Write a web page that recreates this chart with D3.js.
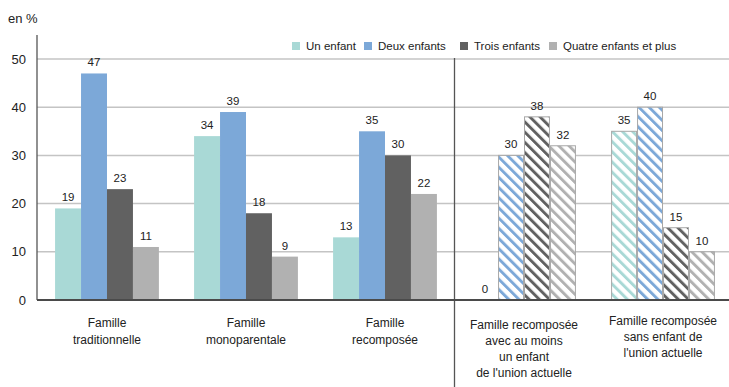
<!DOCTYPE html>
<html>
<head>
<meta charset="utf-8">
<script src="https://cdn.jsdelivr.net/npm/d3@7/dist/d3.min.js"></script>
<style>
  html, body { margin: 0; padding: 0; background: #fff; }
  svg { display: block; font-family: "Liberation Sans", Arial, sans-serif; }
</style>
</head>
<body>
<svg id="chart" width="729" height="387"></svg>
<script>
// Family types (multi-line labels) and number of children series
const categories = [
  ["Famille", "traditionnelle"],
  ["Famille", "monoparentale"],
  ["Famille", "recomposée"],
  ["Famille recomposée", "avec au moins", "un enfant", "de l'union actuelle"],
  ["Famille recomposée", "sans enfant de", "l'union actuelle"]
];
const seriesNames = ["Un enfant", "Deux enfants", "Trois enfants", "Quatre enfants et plus"];
const unEnfant      = [19, 34, 13, 0, 35];
const deuxEnfants   = [47, 39, 35, 30, 40];
const troisEnfants  = [23, 18, 30, 38, 15];
const quatreEnfants = [11, 9, 22, 32, 10];
const yTicks = [0, 10, 20, 30, 40, 50];
// the last two groups are sub-categories of "Famille recomposée" (hatched)
const hatchedGroups = [3, 4];

const seriesValues = [unEnfant, deuxEnfants, troisEnfants, quatreEnfants];
const colors = ["#a9d9d6", "#7ca8d8", "#616161", "#b1b1b1"];

const svg = d3.select("#chart");
const W = 729, H = 387;
const margin = { left: 37, right: -4, top: 35, bottom: 87 };

const x = d3.scaleBand()
  .domain(d3.range(categories.length))
  .range([margin.left, W - margin.right])
  .paddingInner(0.253)
  .paddingOuter(0.13);

const xs = d3.scaleBand()
  .domain(d3.range(seriesNames.length))
  .range([0, x.bandwidth()]);

const y = d3.scaleLinear().domain([0, 50]).range([300, 59]);

// hatch patterns for the sub-category bars
const defs = svg.append("defs");
colors.forEach((c, i) => {
  const p = defs.append("pattern")
    .attr("id", "hatch" + i)
    .attr("patternUnits", "userSpaceOnUse")
    .attr("width", 7.2).attr("height", 10)
    .attr("patternTransform", "rotate(-45)");
  p.append("rect").attr("width", 7.2).attr("height", 10).attr("fill", "#fff");
  p.append("rect").attr("x", 0).attr("width", 2.9).attr("height", 10).attr("fill", c);
});

// horizontal gridlines
svg.append("g")
  .selectAll("line")
  .data(yTicks.filter(d => d > 0))
  .join("line")
  .attr("x1", margin.left).attr("x2", W)
  .attr("y1", d => y(d)).attr("y2", d => y(d))
  .attr("stroke", "#c4c4c4").attr("stroke-width", 1.5);

// y axis
const yAxis = svg.append("g")
  .attr("transform", `translate(${margin.left},0)`)
  .call(d3.axisLeft(y).tickValues(yTicks).tickSize(0).tickPadding(11));
yAxis.select(".domain").remove();
yAxis.selectAll("text").attr("font-size", 13).attr("fill", "#222")
  .attr("font-family", "'Liberation Sans', Arial, sans-serif");
svg.append("line")
  .attr("x1", margin.left).attr("x2", margin.left)
  .attr("y1", 35).attr("y2", y(0))
  .attr("stroke", "#555").attr("stroke-width", 1.3);

svg.append("text").attr("x", 8).attr("y", 23)
  .attr("font-size", 13).attr("fill", "#222").text("en %");

// separator between family types and sub-categories
const sepX = (x(2) + x.bandwidth() + x(3)) / 2;
svg.append("line")
  .attr("x1", sepX).attr("x2", sepX)
  .attr("y1", 58).attr("y2", H)
  .attr("stroke", "#555").attr("stroke-width", 1.3);

// bars
const groups = svg.append("g").selectAll("g")
  .data(categories.map((c, gi) => gi))
  .join("g")
  .attr("transform", gi => `translate(${x(gi)},0)`);

groups.each(function (gi) {
  const g = d3.select(this);
  const hatched = hatchedGroups.includes(gi);
  seriesValues.forEach((vals, si) => {
    const v = vals[gi];
    if (v > 0) {
      g.append("rect")
        .attr("x", xs(si) + (hatched ? 0.5 : 0))
        .attr("y", y(v))
        .attr("width", xs.bandwidth() - (hatched ? 1 : 0))
        .attr("height", y(0) - y(v))
        .attr("fill", hatched ? `url(#hatch${si})` : colors[si])
        .attr("stroke", hatched ? "#a8a8a8" : "none")
        .attr("stroke-width", hatched ? 1 : 0);
    }
    g.append("text")
      .attr("x", xs(si) + xs.bandwidth() / 2)
      .attr("y", y(v) - 7)
      .attr("text-anchor", "middle")
      .attr("font-size", 11.5)
      .attr("fill", "#222")
      .text(v);
  });
});

// baseline
svg.append("line")
  .attr("x1", margin.left).attr("x2", W)
  .attr("y1", y(0)).attr("y2", y(0))
  .attr("stroke", "#4a4a4a").attr("stroke-width", 2);

// category labels
const labelTop = [327, 327, 327, 329, 325];
categories.forEach((lines, gi) => {
  const t = svg.append("text")
    .attr("text-anchor", "middle")
    .attr("font-size", 12)
    .attr("fill", "#222");
  lines.forEach((ln, li) => {
    t.append("tspan")
      .attr("x", x(gi) + x.bandwidth() / 2)
      .attr("y", labelTop[gi] + li * (gi < 3 ? 17 : 16))
      .text(ln);
  });
});

// legend
const legendX = [292, 364, 460, 549];
const legend = svg.append("g");
seriesNames.forEach((name, i) => {
  legend.append("rect")
    .attr("x", legendX[i]).attr("y", 42)
    .attr("width", 8).attr("height", 8)
    .attr("fill", colors[i]);
  legend.append("text")
    .attr("x", legendX[i] + 14).attr("y", 50)
    .attr("font-size", 11.5).attr("fill", "#222")
    .text(name);
});
</script>
</body>
</html>
